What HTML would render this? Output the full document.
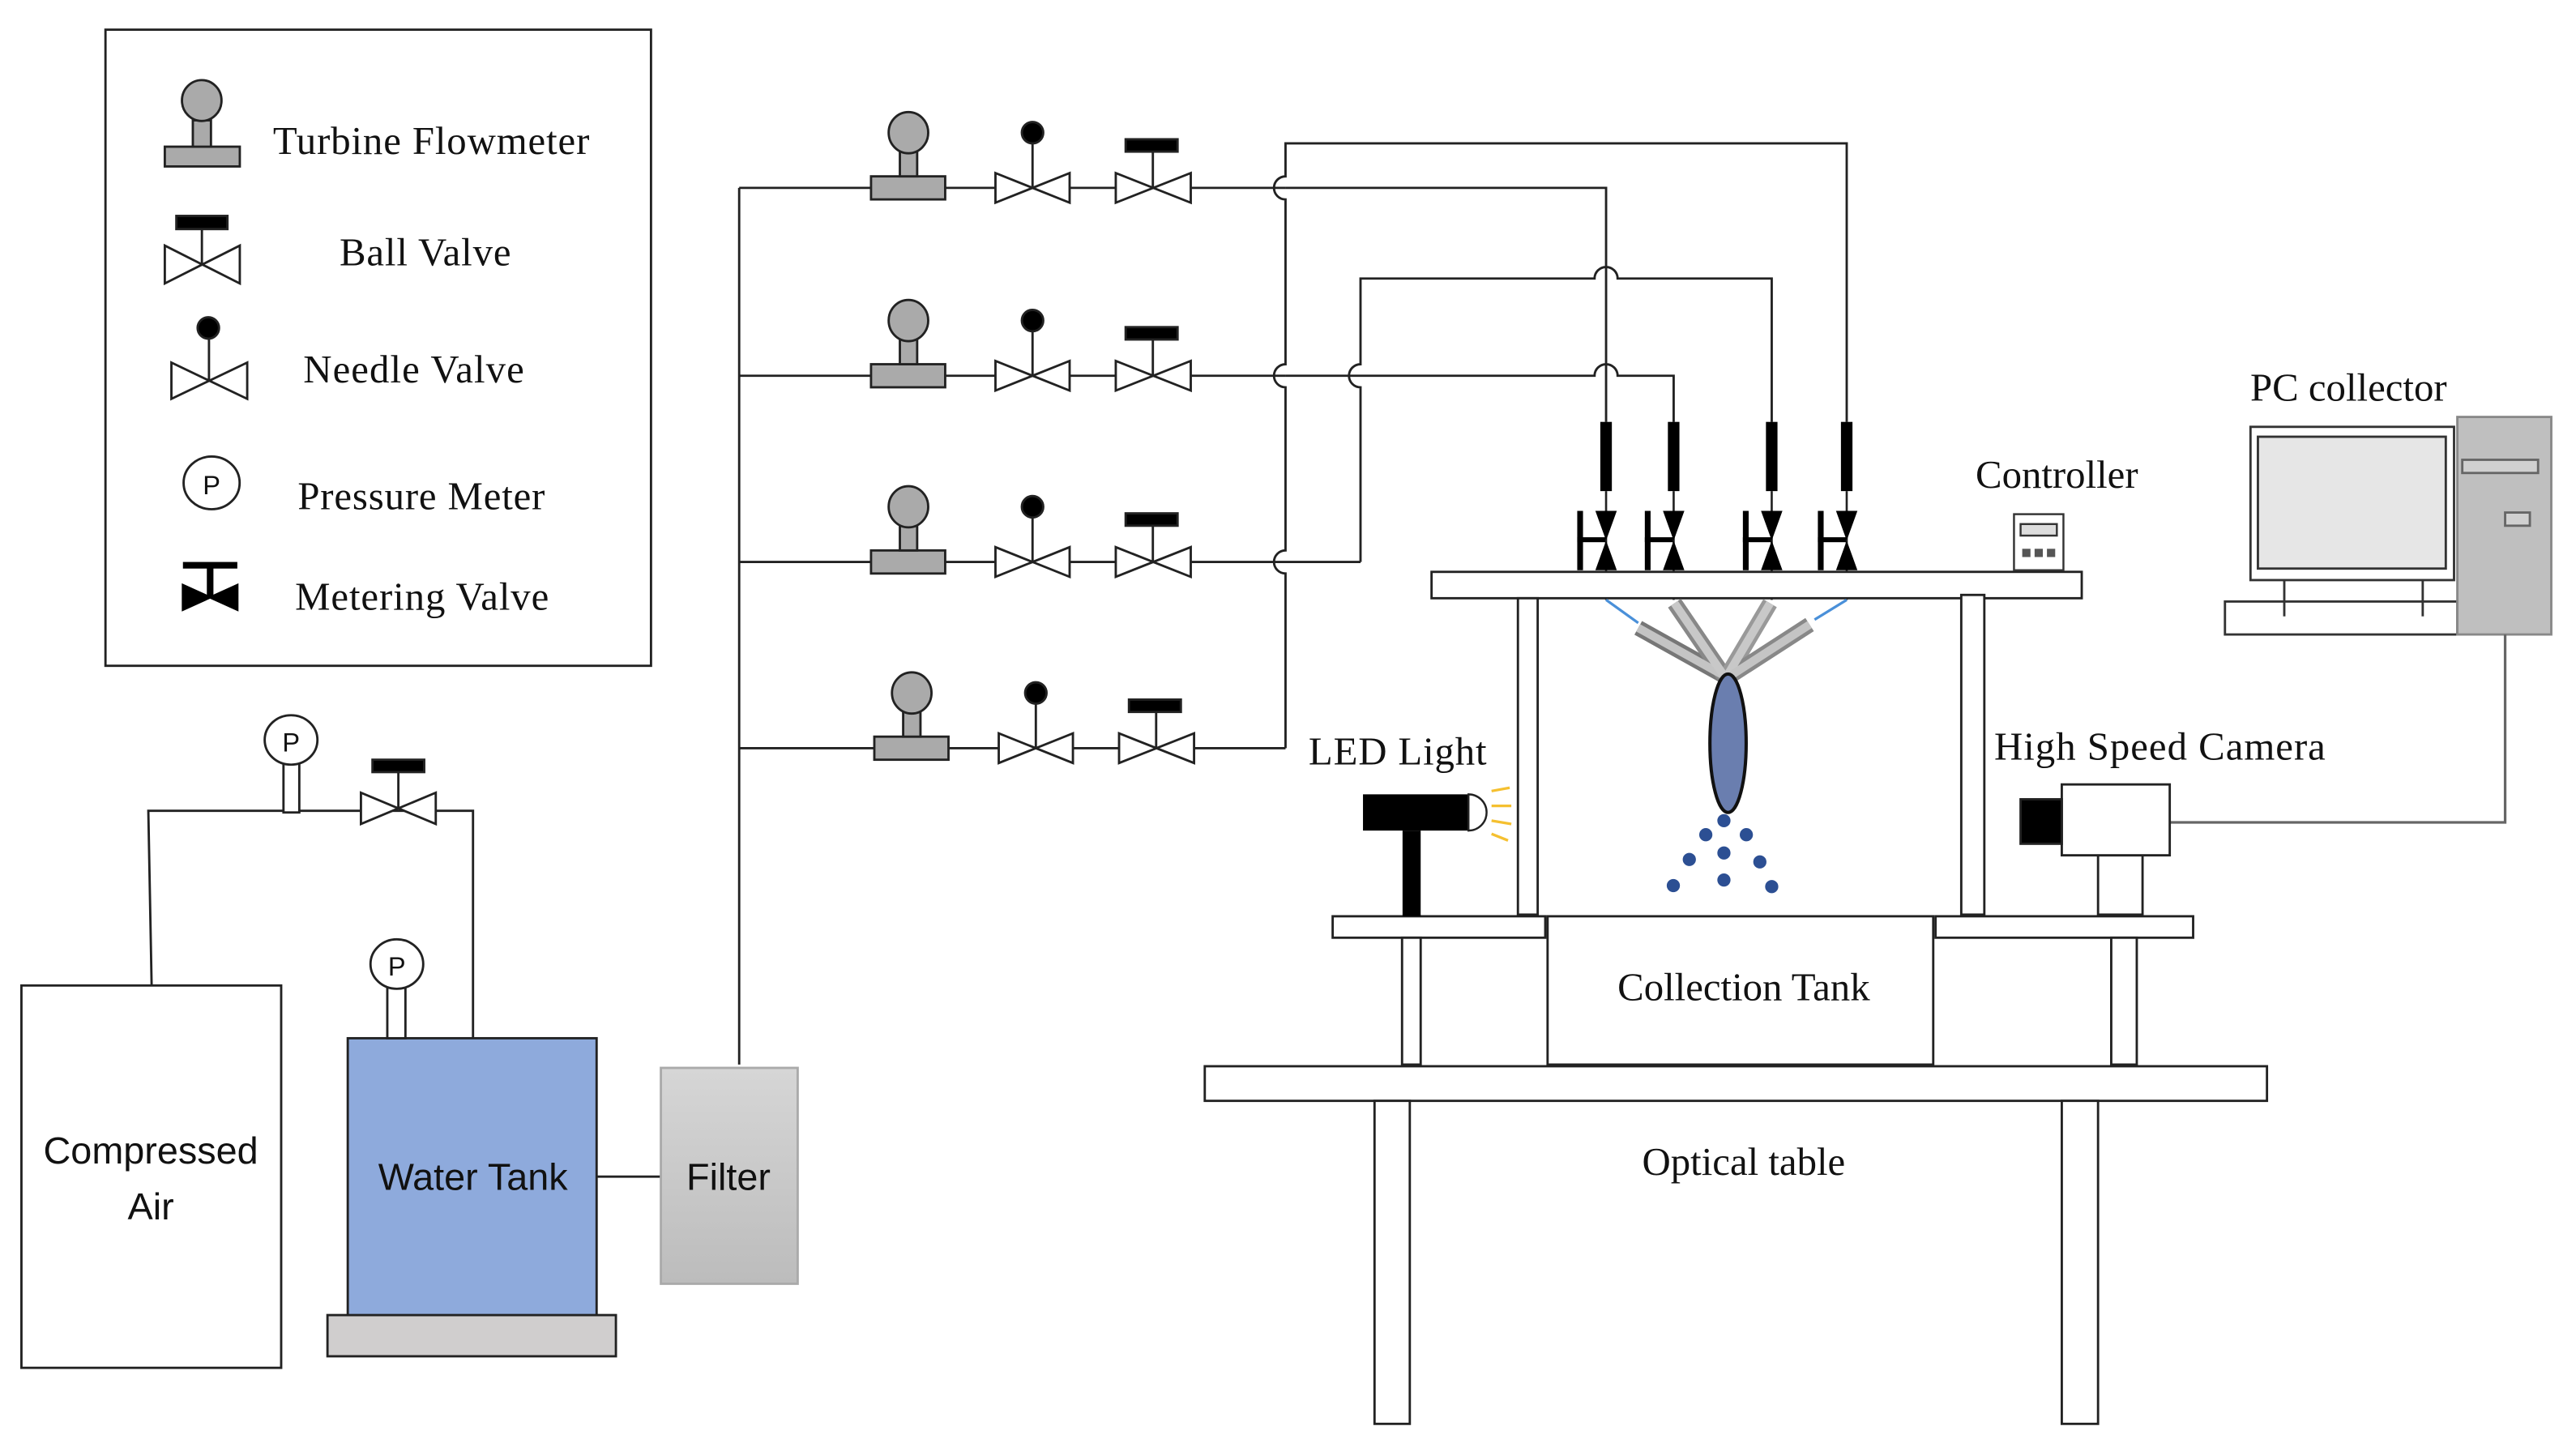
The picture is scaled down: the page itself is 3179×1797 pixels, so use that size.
<!DOCTYPE html>
<html><head><meta charset="utf-8"><style>
html,body{margin:0;padding:0;background:#fff;}
svg{display:block;}
.s{font-family:"Liberation Serif",serif;font-size:24px;fill:#111;}
.a{font-family:"Liberation Sans",sans-serif;font-size:23px;fill:#111;}
</style></head><body>
<svg width="3179" height="1797" viewBox="0 0 1563 883.5" xmlns="http://www.w3.org/2000/svg">
<defs>
<linearGradient id="fg" x1="0" y1="0" x2="0" y2="1"><stop offset="0" stop-color="#d6d6d6"/><stop offset="1" stop-color="#bcbcbc"/></linearGradient>
</defs>
<rect width="1563" height="883.5" fill="#fff"/>
<g fill="none" stroke="#222" stroke-width="1.4">
<rect x="64" y="18" width="331" height="386"/>
</g>
<g stroke="#222" stroke-width="1.4">
<rect x="100" y="89" width="45.5" height="12" fill="#aaa"/>
<rect x="117" y="73" width="11" height="16" fill="#aaa"/>
<ellipse cx="122.4" cy="61" rx="12" ry="12.4" fill="#aaa"/>
<rect x="107" y="131" width="31" height="8" fill="#000"/>
<line x1="122.5" y1="139" x2="122.5" y2="160.5"/>
<polygon points="100,149 100,172 145.5,149 145.5,172" fill="#fff"/>
<circle cx="126.4" cy="199" r="6.5" fill="#000"/>
<line x1="126.8" y1="205" x2="126.8" y2="231"/>
<polygon points="104,220 104,242 150,220 150,242" fill="#fff"/>
<ellipse cx="128.4" cy="293" rx="17" ry="16" fill="#fff"/>
<rect x="111" y="341" width="33" height="4" fill="#000" stroke="none"/>
<rect x="125.5" y="344" width="4" height="19" fill="#000" stroke="none"/>
<polygon points="111,355 111,370 144,355 144,370" fill="#000" stroke="#000"/>
</g>
<text x="128.4" y="300" text-anchor="middle" class="a" style="font-size:16px">P</text>
<text x="165.6" y="93.5" class="s" textLength="192">Turbine Flowmeter</text>
<text x="206" y="161" class="s" textLength="104">Ball Valve</text>
<text x="184" y="232" class="s" textLength="134">Needle Valve</text>
<text x="180.6" y="309" class="s" textLength="150">Pressure Meter</text>
<text x="179" y="370" class="s" textLength="154">Metering Valve</text>

<g fill="none" stroke="#222" stroke-width="1.4">
<line x1="448.5" y1="114" x2="448.5" y2="646"/>
<line x1="448.5" y1="114" x2="780" y2="114"/>
<line x1="448.5" y1="228" x2="780" y2="228"/>
<line x1="448.5" y1="341" x2="825.5" y2="341"/>
<line x1="448.5" y1="454" x2="780" y2="454"/>
<path d="M780,454 V348 A7,7 0 0 1 780,334 V235 A7,7 0 0 1 780,221 V121 A7,7 0 0 1 780,107 V87 H1120.5 V256"/>
<path d="M780,114 H974.5 V256"/>
<path d="M825.5,341 V235 A7,7 0 0 1 825.5,221 V169 H967.5 A7,7 0 0 1 981.5,169 H1075 V256"/>
<path d="M780,228 H967.5 A7,7 0 0 1 981.5,228 H1015.5 V256"/>
</g>
<g stroke="#222" stroke-width="1.4">
<g id="row">
<rect x="528.5" y="107" width="45" height="14" fill="#aaa"/>
<rect x="546" y="89" width="10.5" height="18" fill="#aaa"/>
<ellipse cx="551.2" cy="80.5" rx="12" ry="12.5" fill="#aaa"/>
<polygon points="604,105 604,123 649,105 649,123" fill="#fff"/>
<line x1="626.5" y1="87" x2="626.5" y2="114"/>
<circle cx="626.5" cy="80.5" r="6.5" fill="#000"/>
<polygon points="677,105 677,123 722.5,105 722.5,123" fill="#fff"/>
<line x1="699.5" y1="92" x2="699.5" y2="114"/>
<rect x="683" y="84.5" width="31.5" height="7.5" fill="#000"/>
</g>
<use href="#row" y="114"/>
<use href="#row" y="227"/>
<use href="#row" x="2" y="340"/>
</g>

<g fill="#000">
<rect x="971" y="256" width="7" height="42"/>
<rect x="1012" y="256" width="7" height="42"/>
<rect x="1071.5" y="256" width="7" height="42"/>
<rect x="1117" y="256" width="7" height="42"/>
</g>
<g stroke="#222" stroke-width="1.3">
<line x1="974.5" y1="298" x2="974.5" y2="364"/>
<line x1="1015.5" y1="298" x2="1015.5" y2="364"/>
<line x1="1075" y1="298" x2="1075" y2="364"/>
<line x1="1120.5" y1="298" x2="1120.5" y2="364"/>
</g>
<g fill="#000" id="mv">
<rect x="957" y="310" width="3.5" height="36"/>
<rect x="957" y="326" width="17" height="3"/>
<polygon points="968,310 981,310 974.5,328"/>
<polygon points="968,346 981,346 974.5,328"/>
</g>
<use href="#mv" x="41"/>
<use href="#mv" x="100.5"/>
<use href="#mv" x="146"/>

<g fill="#fff" stroke="#222" stroke-width="1.4">
<rect x="868.6" y="347" width="394.5" height="16"/>
<rect x="921" y="363" width="12" height="192"/>
<rect x="1190" y="361" width="14" height="194"/>
<rect x="808.6" y="556" width="129" height="13"/>
<rect x="1174.4" y="556" width="156.3" height="13"/>
<rect x="939" y="556" width="234" height="90"/>
<rect x="850.7" y="569" width="11.3" height="77"/>
<rect x="1281" y="569" width="15.5" height="77"/>
<rect x="731" y="647" width="644.5" height="21"/>
<rect x="834" y="668" width="21.4" height="196"/>
<rect x="1251" y="668" width="22" height="196"/>
</g>

<g stroke="#4a90d9" stroke-width="1.6">
<line x1="974.5" y1="364" x2="994" y2="378"/>
<line x1="1120.5" y1="364" x2="1101" y2="376"/>
</g>
<g stroke-linecap="butt">
<line x1="994" y1="381" x2="1046" y2="410" stroke="#777" stroke-width="9.5"/>
<line x1="1016" y1="366" x2="1046" y2="410" stroke="#888" stroke-width="9.5"/>
<line x1="1074" y1="366" x2="1048" y2="410" stroke="#999" stroke-width="9.5"/>
<line x1="1098" y1="379" x2="1050" y2="410" stroke="#888" stroke-width="9.5"/>
<line x1="994" y1="381" x2="1046" y2="410" stroke="#c4c4c4" stroke-width="5"/>
<line x1="1016" y1="366" x2="1046" y2="410" stroke="#c8c8c8" stroke-width="5"/>
<line x1="1074" y1="366" x2="1048" y2="410" stroke="#c8c8c8" stroke-width="5"/>
<line x1="1098" y1="379" x2="1050" y2="410" stroke="#c4c4c4" stroke-width="5"/>
</g>
<ellipse cx="1048.5" cy="451" rx="11" ry="42" fill="#6a7eaf" stroke="#111" stroke-width="2"/>
<g fill="#2c4f93">
<circle cx="1046" cy="498" r="4"/><circle cx="1035" cy="506.5" r="4"/><circle cx="1059.6" cy="506.5" r="4"/>
<circle cx="1046" cy="517.6" r="4"/><circle cx="1025" cy="521.5" r="4"/><circle cx="1067.8" cy="523" r="4"/>
<circle cx="1046" cy="534" r="4"/><circle cx="1015.3" cy="537.4" r="4"/><circle cx="1075" cy="538" r="4"/>
</g>

<g stroke="#333" stroke-width="1.2">
<rect x="1222" y="312" width="30" height="34" fill="#fff"/>
<rect x="1226" y="318" width="22" height="7" fill="#ddd"/>
</g>
<g fill="#555"><rect x="1227" y="333" width="5" height="5"/><rect x="1234.5" y="333" width="5" height="5"/><rect x="1242" y="333" width="5" height="5"/></g>
<text x="1248" y="296" text-anchor="middle" class="s">Controller</text>

<g stroke="#333" stroke-width="1.4">
<rect x="1350" y="365" width="141" height="20" fill="#fff"/>
<rect x="1365.5" y="259" width="123.5" height="93" fill="#fff"/>
<rect x="1370" y="265" width="114" height="80" fill="#e6e6e6"/>
<line x1="1386" y1="352" x2="1386" y2="374"/>
<line x1="1470" y1="352" x2="1470" y2="374"/>
<rect x="1491" y="253" width="57" height="132" fill="#bfbfbf" stroke="#888"/>
<rect x="1494" y="279" width="46" height="8" fill="#d0d0d0" stroke="#666"/>
<rect x="1520" y="311" width="15" height="8" fill="#d0d0d0" stroke="#666"/>
</g>
<polyline points="1520,385 1520,499 1316.5,499" fill="none" stroke="#666" stroke-width="1.6"/>
<text x="1425" y="243" text-anchor="middle" class="s">PC collector</text>

<g stroke="#222" stroke-width="1.4">
<rect x="1273" y="519" width="27" height="36" fill="#fff"/>
<rect x="1251" y="476" width="65.5" height="43" fill="#fff"/>
<rect x="1226" y="485" width="25" height="27" fill="#000"/>
</g>
<text x="1210" y="461" class="s" textLength="201">High Speed Camera</text>

<rect x="827" y="482" width="64" height="22" fill="#000"/>
<rect x="851" y="504" width="11" height="52" fill="#000"/>
<path d="M891,482 A11,11 0 0 1 891,504 Z" fill="#fff" stroke="#222" stroke-width="1.2"/>
<g stroke="#f5c030" stroke-width="1.6">
<line x1="905" y1="480" x2="916" y2="478"/><line x1="905" y1="489" x2="917" y2="489"/>
<line x1="905" y1="498" x2="917" y2="500"/><line x1="905" y1="506" x2="915" y2="510"/>
</g>
<text x="794" y="464" class="s" textLength="108">LED Light</text>

<text x="1058" y="607" text-anchor="middle" class="s">Collection Tank</text>
<text x="1058" y="713" text-anchor="middle" class="s">Optical table</text>

<g stroke="#222" stroke-width="1.4">
<rect x="13" y="598" width="157.6" height="232" fill="#fff"/>
<polyline points="92,598 90,492 287,492 287,630" fill="none"/>
<rect x="172" y="463" width="9.6" height="30" fill="#fff"/>
<ellipse cx="176.6" cy="449" rx="16" ry="15" fill="#fff"/>
<polygon points="219,481 219,500 264.4,481 264.4,500" fill="#fff"/>
<line x1="241.7" y1="468" x2="241.7" y2="490.5"/>
<rect x="226" y="461" width="31.4" height="7.5" fill="#000"/>
<rect x="198.7" y="798" width="175" height="25" fill="#d0cece"/>
<rect x="211" y="630" width="151" height="168" fill="#8eaadc"/>
<rect x="235" y="598" width="11" height="32" fill="#fff"/>
<ellipse cx="240.8" cy="585" rx="16" ry="15" fill="#fff"/>
<line x1="362" y1="714" x2="401" y2="714"/>
<rect x="401" y="648" width="83" height="131" fill="url(#fg)" stroke="#aaa"/>
</g>
<text x="176.6" y="456" text-anchor="middle" class="a" style="font-size:16px">P</text>
<text x="240.8" y="592" text-anchor="middle" class="a" style="font-size:16px">P</text>
<text x="91.5" y="706" text-anchor="middle" class="a">Compressed</text>
<text x="91.5" y="740" text-anchor="middle" class="a">Air</text>
<text x="287" y="722" text-anchor="middle" class="a">Water Tank</text>
<text x="442" y="722" text-anchor="middle" class="a">Filter</text>
</svg>
</body></html>
